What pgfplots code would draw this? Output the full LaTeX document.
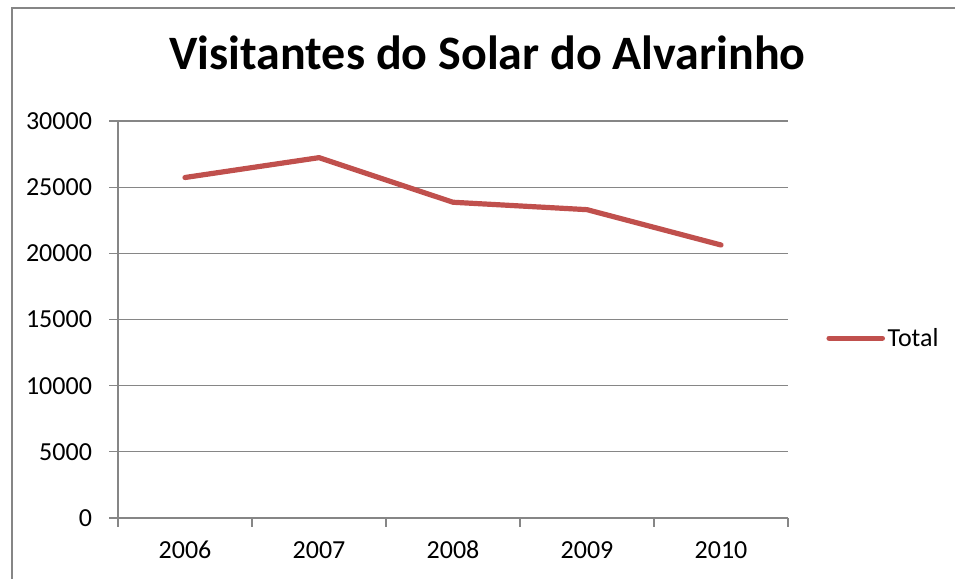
\documentclass[border=0pt]{standalone}
\usepackage{pgfplots}
\pgfplotsset{compat=1.18}
\usepackage{fontspec}
\setmainfont{Carlito}
\definecolor{linered}{HTML}{C0504D}
\definecolor{gridgray}{HTML}{868686}
\begin{document}
\begin{tikzpicture}
\useasboundingbox (0pt,0pt) rectangle (716.25pt,433.5pt);
\draw[gridgray, line width=0.9pt] (9pt,-5pt) -- (9pt,427.5pt) -- (730pt,427.5pt);
\node[anchor=base, font=\fontsize{36}{42}\selectfont\bfseries] at (365.6pt,381pt) {Visitantes do Solar do Alvarinho};
\begin{axis}[
  at={(88.5pt,45pt)}, anchor=south west,
  scale only axis, width=502.5pt, height=297.75pt,
  xmin=0.5, xmax=5.5, ymin=0, ymax=30000,
  axis lines=left,
  axis line style={-, gridgray, line width=0.9pt},
  ymajorgrids,
  grid style={gridgray, line width=0.9pt},
  xtick={0.5,1.5,2.5,3.5,4.5,5.5},
  xticklabels={},
  extra x ticks={1,2,3,4,5},
  extra x tick labels={2006,2007,2008,2009,2010},
  extra x tick style={major tick length=0pt, xticklabel style={anchor=north, text height=1.4ex, text depth=0pt, yshift=-20pt}},
  ytick={0,5000,10000,15000,20000,25000,30000},
  scaled y ticks=false,
  tick align=outside,
  major tick length=6.5pt,
  tick style={gridgray, line width=0.9pt},
  ticklabel style={font=\fontsize{19.5}{23}\selectfont},
  /pgf/number format/assume math mode=true,
  /pgf/number format/1000 sep={},
  yticklabel style={xshift=-9.5pt},
  legend style={at={(1.057,0.453)}, anchor=west, draw=none, fill=none,
    font=\fontsize{19.5}{23}\selectfont, inner sep=0pt},
  legend image code/.code={\draw[#1] (0pt,0pt) -- (40pt,0pt);},
]
\addplot[linered, line width=3.9pt, line cap=round, line join=round] coordinates {
(1,25730) (2,27230) (3,23860) (4,23300) (5,20630)
};
\addlegendentry{Total}
\end{axis}
\end{tikzpicture}
\end{document}
